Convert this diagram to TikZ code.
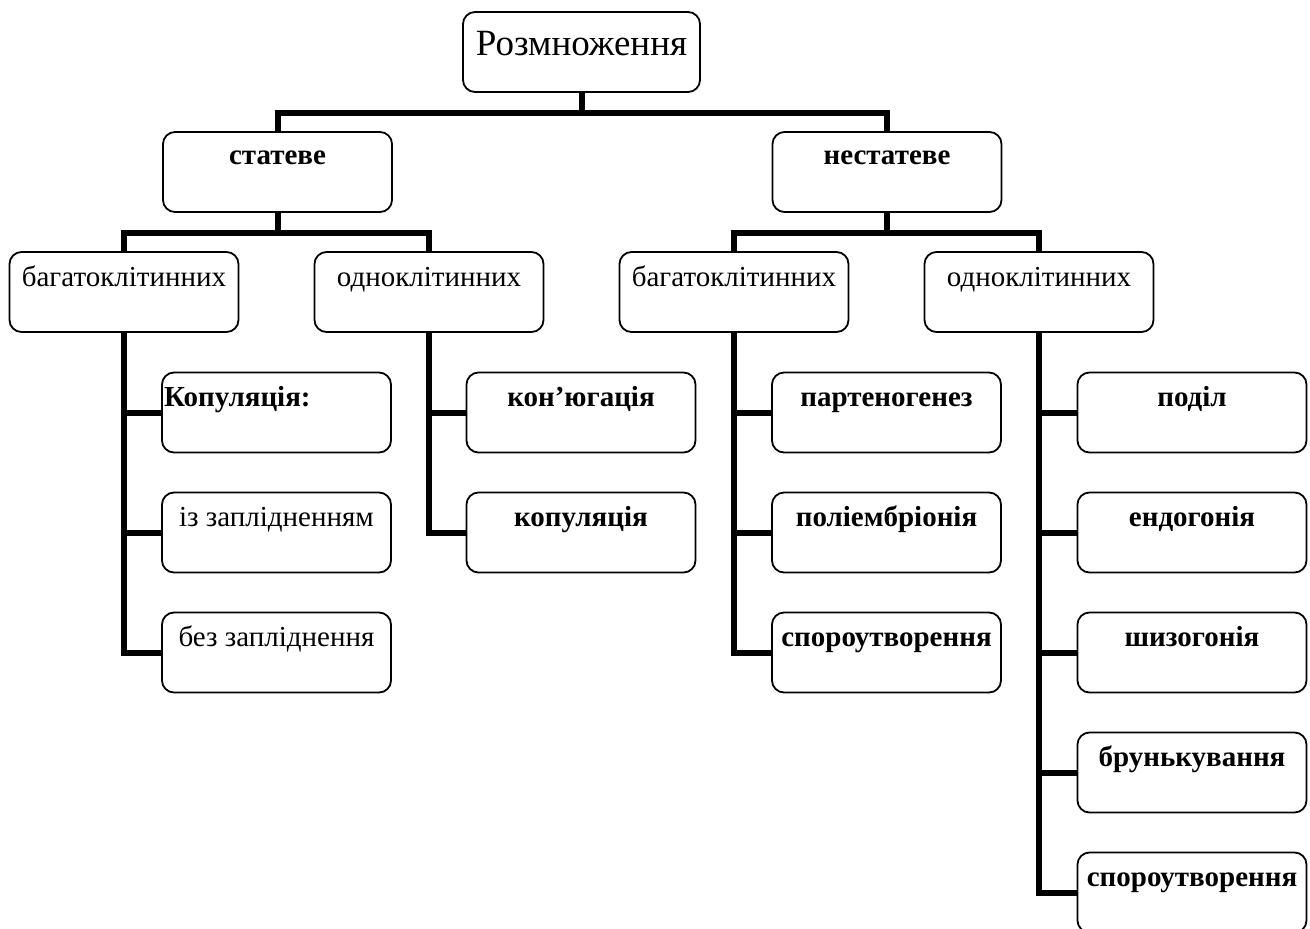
\documentclass[tikz,border=0pt]{standalone}
\usepackage{fontspec}
\setmainfont{Liberation Serif}
\begin{document}
\begin{tikzpicture}[x=1pt,y=-1pt,
    box/.style={draw=black,line width=1.8pt,rounded corners=12pt,inner xsep=2pt,inner ysep=0pt,
      minimum width=229pt,text height=34pt,text depth=46pt,font=\fontsize{29}{33}\selectfont},
    bbox/.style={box,font=\fontsize{29}{33}\selectfont\bfseries},
    link/.style={line width=6pt}]
    \useasboundingbox (0,0) rectangle (1310,929);
    \node[box,minimum width=237pt,text height=43pt,text depth=37pt,font=\fontsize{37}{42}\selectfont] (root) at (581.5,52) {Розмноження};
    \node[bbox,text height=32pt,text depth=48pt] (stat) at (277.5,172) {статеве};
    \node[bbox,text height=32pt,text depth=48pt] (nestat) at (887,172) {нестатеве};
    \node[box] (bagA) at (124,292) {багатоклітинних};
    \node[box] (odnA) at (429,292) {одноклітинних};
    \node[box] (bagB) at (734,292) {багатоклітинних};
    \node[box] (odnB) at (1039,292) {одноклітинних};
    % statewe, bahatoklitynni
    \node[bbox,text width=225pt,align=left] (kop) at (276.5,412.5) {Копуляція:};
    \node[box] (zap) at (276.5,532.5) {із заплідненням};
    \node[box] (bezzap) at (276.5,652.5) {без запліднення};
    % statewe, odnoklitynni
    \node[bbox] (konj) at (581,412.5) {кон’югація};
    \node[bbox] (kopA) at (581,532.5) {копуляція};
    % nestatewe, bahatoklitynni
    \node[bbox] (part) at (886.5,412.5) {партеногенез};
    \node[bbox] (polie) at (886.5,532.5) {поліембріонія};
    \node[bbox] (sporA) at (886.5,652.5) {спороутворення};
    % nestatewe, odnoklitynni
    \node[bbox] (podil) at (1192,412.5) {поділ};
    \node[bbox] (endo) at (1192,532.5) {ендогонія};
    \node[bbox] (shyzo) at (1192,652.5) {шизогонія};
    \node[bbox] (brun) at (1192,772.5) {брунькування};
    \node[bbox] (sporB) at (1192,892.5) {спороутворення};
    \draw[link] (root.south) -- ++(0,20) -| (stat.north);
    \draw[link] (root.south) -- ++(0,20) -| (nestat.north);
    \draw[link] (stat.south) -- ++(0,20) -| (bagA.north);
    \draw[link] (stat.south) -- ++(0,20) -| (odnA.north);
    \draw[link] (nestat.south) -- ++(0,20) -| (bagB.north);
    \draw[link] (nestat.south) -- ++(0,20) -| (odnB.north);
    \foreach \k in {kop,zap,bezzap} \draw[link] (bagA.south) |- (\k.west);
    \foreach \k in {konj,kopA} \draw[link] (odnA.south) |- (\k.west);
    \foreach \k in {part,polie,sporA} \draw[link] (bagB.south) |- (\k.west);
    \foreach \k in {podil,endo,shyzo,brun,sporB} \draw[link] (odnB.south) |- (\k.west);
\end{tikzpicture}
\end{document}
